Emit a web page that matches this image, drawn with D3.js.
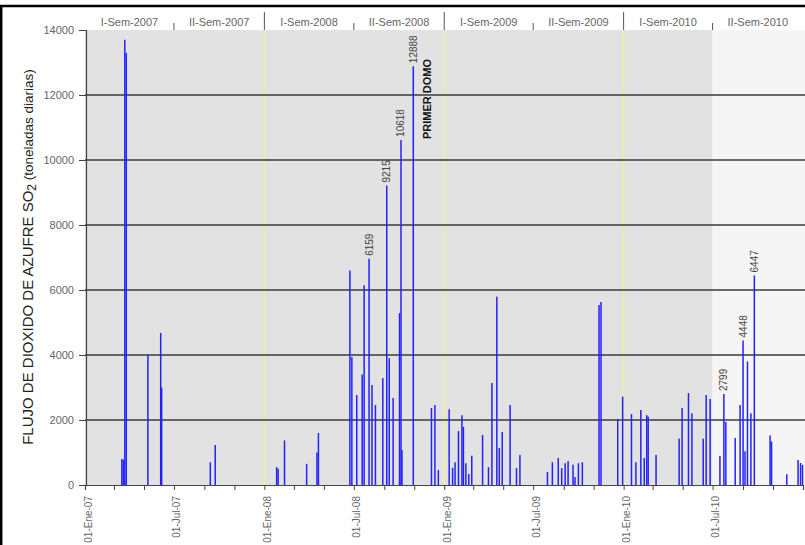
<!DOCTYPE html>
<html><head><meta charset="utf-8">
<script src="https://cdn.jsdelivr.net/npm/d3@7"></script>
<style>body{margin:0;background:#fff}svg{display:block;font-family:"Liberation Sans",Arial,sans-serif}</style>
</head><body><svg id="c" width="805" height="545"></svg>
<script>
// ---- data (daily SO2 flux, t/day) ----
const dates = [
"2007-03-17","2007-03-20","2007-03-23","2007-03-26","2007-05-09","2007-06-04","2007-06-06","2007-09-13","2007-09-23",
"2008-01-26","2008-01-29","2008-02-11","2008-03-27","2008-04-17","2008-04-20","2008-06-23","2008-06-27","2008-07-07",
"2008-07-18","2008-07-22","2008-08-01","2008-08-07","2008-08-14","2008-08-29","2008-09-06","2008-09-11","2008-09-19",
"2008-10-02","2008-10-05","2008-10-07","2008-10-30","2008-12-06","2008-12-13","2008-12-20",
"2009-01-11","2009-01-18","2009-01-23","2009-01-30","2009-02-06","2009-02-09","2009-02-14","2009-02-20","2009-02-26",
"2009-03-20","2009-04-01","2009-04-08","2009-04-18","2009-04-23","2009-04-29","2009-05-15","2009-05-28","2009-06-04",
"2009-07-30","2009-08-09","2009-08-21","2009-08-28","2009-09-04","2009-09-10","2009-09-20","2009-09-24","2009-10-01",
"2009-10-09","2009-11-12","2009-11-16","2009-12-20","2009-12-30",
"2010-01-17","2010-01-26","2010-02-05","2010-02-12","2010-02-17","2010-02-20","2010-03-08","2010-04-24","2010-04-30",
"2010-05-13","2010-05-20","2010-06-12","2010-06-18","2010-06-26","2010-07-16","2010-07-24","2010-07-28","2010-08-16",
"2010-08-26","2010-09-01","2010-09-05","2010-09-10","2010-09-17","2010-09-24","2010-10-26","2010-10-29","2010-11-29",
"2010-12-22","2010-12-27","2010-12-31"];
const values = [
800,780,13700,13300,4000,4680,3000,700,1230,
550,500,1370,650,1000,1600,6600,3940,2770,
3400,6150,6959,3080,2460,3290,9215,3900,2680,
5290,10618,1080,12888,2370,2460,460,
2330,530,700,1660,2150,1790,670,340,900,
1540,550,3140,5790,1140,1630,2460,520,920,
400,700,830,520,670,740,620,250,670,
700,5540,5630,2030,2720,
2180,700,2310,830,2150,2100,920,1420,2370,
2830,2210,1420,2770,2650,890,2799,1940,1450,
2460,4448,1040,3800,2210,6447,1520,1340,330,
770,680,620];
const annoDates = ["2008-08-01","2008-09-06","2008-10-05","2008-10-30","2010-07-24","2010-09-01","2010-09-24"];
const annoTexts = ["6159","9215","10618","12888","2799","4448","6447"];
const noteDate = "2008-11-28";
const noteText = "PRIMER DOMO";
const yTicks = [0,2000,4000,6000,8000,10000,12000,14000];
const gridTicks = [2000,4000,6000,8000,10000,12000];
const xLabelDates = ["2007-01-01","2007-07-01","2008-01-01","2008-07-01","2009-01-01","2009-07-01","2010-01-01","2010-07-01"];
const xTickLabels = ["01-Ene-07","01-Jul-07","01-Ene-08","01-Jul-08","01-Ene-09","01-Jul-09","01-Ene-10","01-Jul-10"];
const semStarts = ["2007-01-01","2007-07-01","2008-01-01","2008-07-01","2009-01-01","2009-07-01","2010-01-01","2010-07-01","2011-01-01"];
const semesters = ["I-Sem-2007","II-Sem-2007","I-Sem-2008","II-Sem-2008","I-Sem-2009","II-Sem-2009","I-Sem-2010","II-Sem-2010"];
const yearLines = ["2008-01-01","2009-01-01","2010-01-01"];
const shadeEnd = "2010-07-01";
const yTitle = "FLUJO DE DIOXIDO DE AZUFRE SO";
const yTitleSub = "2";
const yTitleUnit = " (toneladas diarias)";

(function () {
const parse = d3.timeParse("%Y-%m-%d");
const svg = d3.select("#c");
const W = 805, H = 545;
const pTop = 30, pBot = 485, pLeft = 85;
const x = d3.scaleTime().domain([parse("2007-01-01"), parse("2011-01-01")]).range([85, 803]);
const y = d3.scaleLinear().domain([0, 14000]).range([pBot, pTop]);

svg.append("rect").attr("width", W).attr("height", H).attr("fill", "#fff");
// shaded region
svg.append("rect").attr("x", pLeft).attr("y", pTop).attr("width", x(parse(shadeEnd)) - pLeft)
  .attr("height", pBot - pTop).attr("fill", "#e2e2e2");
svg.append("rect").attr("x", x(parse(shadeEnd))).attr("y", pTop).attr("width", W - x(parse(shadeEnd)))
  .attr("height", pBot - pTop).attr("fill", "#f5f5f5");
// year lines
svg.selectAll(".yl").data(yearLines).join("line")
  .attr("x1", d => x(parse(d))).attr("x2", d => x(parse(d)))
  .attr("y1", pTop).attr("y2", pBot).attr("stroke", "#f2f08a").attr("stroke-width", 1.2);
// gridlines
svg.selectAll(".gl").data(gridTicks).join("line")
  .attr("x1", pLeft).attr("x2", W).attr("y1", d => y(d)).attr("y2", d => y(d))
  .attr("stroke", "#3a3a3a").attr("stroke-width", 1.3);
// bars
const data = dates.map((d, i) => ({ d: parse(d), v: values[i] }));
svg.selectAll(".bar").data(data).join("line")
  .attr("x1", d => x(d.d)).attr("x2", d => x(d.d))
  .attr("y1", y(0)).attr("y2", d => y(d.v))
  .attr("stroke", "#2222ff").attr("stroke-width", 1.5);

// y axis
const ya = svg.append("g").attr("transform", `translate(${pLeft + 1},0)`)
  .call(d3.axisLeft(y).tickValues(yTicks).tickSize(7).tickPadding(5).tickFormat(d3.format("d")));
ya.select(".domain").attr("stroke", "#444").attr("stroke-width", 1.2);
ya.selectAll(".tick line").attr("stroke", "#444");
ya.selectAll(".tick text").attr("fill", "#666").style("font-size", "11px")
  .style("font-family", '"Liberation Sans",Arial,sans-serif');

// x axis
const xa = svg.append("g").attr("transform", `translate(0,${pBot})`)
  .call(d3.axisBottom(x).ticks(d3.timeMonth.every(2)).tickSize(5).tickFormat(""));
xa.select(".domain").attr("stroke", "#444").attr("stroke-width", 1.2);
xa.selectAll(".tick line").attr("stroke", "#444");
svg.selectAll(".xl").data(xLabelDates).join("text")
  .attr("transform", d => `translate(${x(parse(d)) + 3},496) rotate(-90)`)
  .attr("dy", "0.35em").attr("text-anchor", "end")
  .attr("fill", "#666").style("font-size", "10px")
  .text((d, i) => xTickLabels[i]);

// header semesters
svg.selectAll(".sem").data(semesters).join("text")
  .attr("x", (d, i) => (x(parse(semStarts[i])) + x(parse(semStarts[i + 1]))) / 2)
  .attr("y", 26).attr("text-anchor", "middle").attr("fill", "#666").style("font-size", "11px")
  .text(d => d);
svg.selectAll(".sep").data(semStarts.slice(1, 8)).join("line")
  .attr("x1", d => x(parse(d))).attr("x2", d => x(parse(d)))
  .attr("y1", (d, i) => i % 2 === 0 ? 23 : 12).attr("y2", 30)
  .attr("stroke", "#555").attr("stroke-width", 1);

// annotations
const lookup = new Map(dates.map((d, i) => [d, values[i]]));
svg.selectAll(".anno").data(annoDates).join("text")
  .attr("transform", d => `translate(${x(parse(d))},${y(lookup.get(d)) - 3}) rotate(-90)`)
  .attr("dy", "0.35em").attr("text-anchor", "start").attr("fill", "#444").style("font-size", "10px")
  .text((d, i) => annoTexts[i]);
svg.append("text")
  .attr("transform", `translate(${x(parse(noteDate))},139) rotate(-90)`)
  .attr("dy", "0.35em").attr("text-anchor", "start").attr("fill", "#111")
  .style("font-size", "11px").style("font-weight", "bold").text(noteText);

// y title
const yt = svg.append("text")
  .attr("transform", `translate(28,257) rotate(-90)`)
  .attr("dy", "0.35em").attr("text-anchor", "middle").attr("fill", "#222").style("font-size", "15px");
yt.append("tspan").text(yTitle);
yt.append("tspan").attr("dy", "3").style("font-size", "12px").text(yTitleSub);
yt.append("tspan").attr("dy", "-3").style("font-size", "13.5px").text(yTitleUnit);

// frame
svg.append("line").attr("x1", 0).attr("x2", W).attr("y1", 6).attr("y2", 6).attr("stroke", "#000").attr("stroke-width", 2.5);
svg.append("line").attr("x1", 1.2).attr("x2", 1.2).attr("y1", 5).attr("y2", H).attr("stroke", "#000").attr("stroke-width", 2.5);
})();
</script></body></html>
